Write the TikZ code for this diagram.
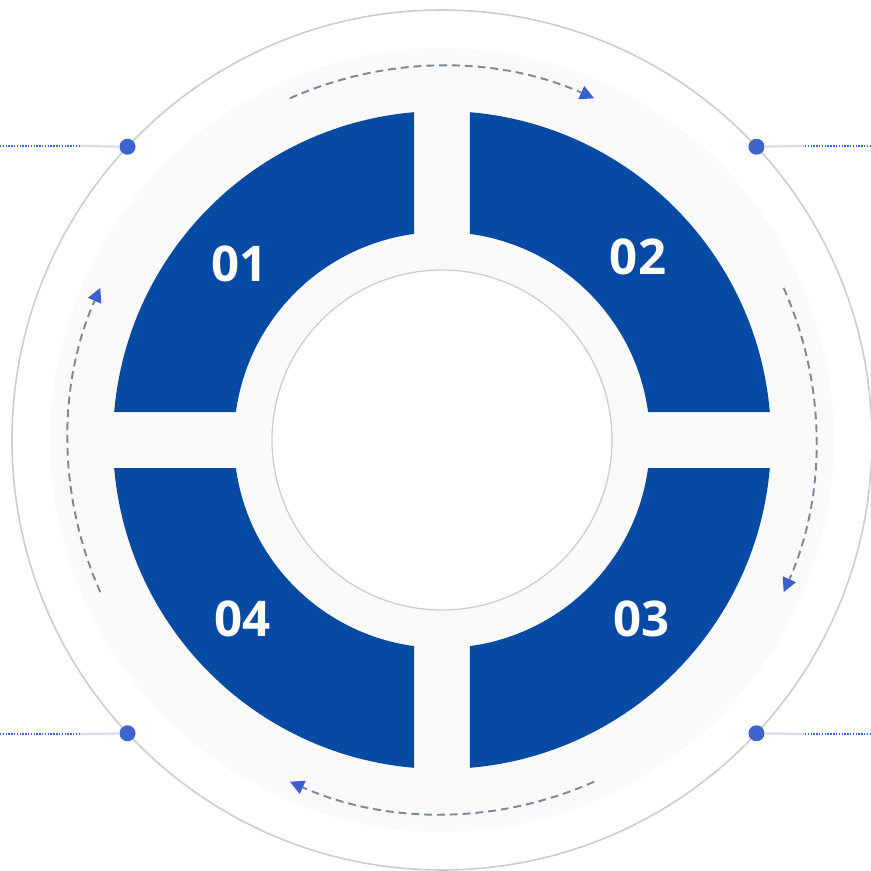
\documentclass[tikz,border=0pt]{standalone}
\usepackage{fontspec}
\setsansfont{Open Sans}
\usetikzlibrary{arrows.meta}

\definecolor{ringblue}{RGB}{7,74,163}
\definecolor{dotblue}{RGB}{64,100,205}
\definecolor{arrowblue}{RGB}{58,96,206}
\definecolor{circgrey}{RGB}{204,204,204}
\definecolor{dashgrey}{RGB}{128,136,152}
\definecolor{glowgrey}{RGB}{250,250,251}
\definecolor{stubblue}{RGB}{214,220,238}

\tikzset{
	dotnode/.style={circle,fill=dotblue,inner sep=0pt,minimum size=0.32cm},
	numlabel/.style={text=white,font=\sffamily\bfseries\fontsize{28}{30}\selectfont},
	dasharc/.style={dashgrey,line width=1.1pt,dash pattern=on 4.5pt off 2.8pt,
		-{Triangle[length=8pt,width=8pt,fill=arrowblue,color=arrowblue]}},
	leader/.style={dotblue,line width=0.6pt,dash pattern=on 0.8pt off 0.8pt},
	stub/.style={stubblue,line width=1.2pt}
}

\begin{document}
\begin{tikzpicture}[x=0.02cm,y=0.02cm]
	\newcommand\outerr{329}
	\newcommand\innerr{208}
	\newcommand\halfgap{28}
	\newcommand\dashr{374}
	\newcommand\rimr{430}

	\useasboundingbox (-442,-430) rectangle (429,440);

	% soft glow behind the ring
	\fill[glowgrey] (0,0) circle (392);
	\fill[white] (0,0) circle (170);

	\draw[circgrey,line width=0.9pt] (0,0) circle (\rimr);
	\draw[circgrey,line width=0.7pt] (0,0) circle (170);

	% four quarters of the ring
	\pgfmathsetmacro\ao{asin(\halfgap/\outerr)}
	\pgfmathsetmacro\ai{asin(\halfgap/\innerr)}
	\foreach \rot in {0,90,180,270} {
		\fill[ringblue,rotate=\rot] (\ao:\outerr) arc[start angle=\ao,end angle=90-\ao,radius=\outerr]
			-- (90-\ai:\innerr) arc[start angle=90-\ai,end angle=\ai,radius=\innerr] -- cycle;
	}

	\foreach \ang/\txt in {139/01,43/02,318/03,222/04} {
		\node[numlabel] (n\txt) at (\ang:268) {\txt};
	}

	% dashed arrows running clockwise
	\foreach \cen in {90,0,-90,180} {
		\draw[dasharc] (\cen+24:\dashr) arc[start angle=\cen+24,end angle=\cen-24,radius=\dashr];
	}

	% dots on the outer circle with leaders
	\node[dotnode] (dtl) at (137:\rimr) {};
	\node[dotnode] (dtr) at (43:\rimr) {};
	\node[dotnode] (dbl) at (-137:\rimr) {};
	\node[dotnode] (dbr) at (-43:\rimr) {};

	\coordinate (ltl) at (-362,294);
	\coordinate (etl) at (-442,294);
	\coordinate (ltr) at (363,294);
	\coordinate (etr) at (429,294);
	\coordinate (lbl) at (-362,-294);
	\coordinate (ebl) at (-442,-294);
	\coordinate (lbr) at (363,-294);
	\coordinate (ebr) at (429,-294);

	\draw[stub] (dtl) -- (ltl);
	\draw[stub] (dtr) -- (ltr);
	\draw[stub] (dbl) -- (lbl);
	\draw[stub] (dbr) -- (lbr);
	\draw[leader] (ltl) -- (etl);
	\draw[leader] (ltr) -- (etr);
	\draw[leader] (lbl) -- (ebl);
	\draw[leader] (lbr) -- (ebr);
\end{tikzpicture}
\end{document}
